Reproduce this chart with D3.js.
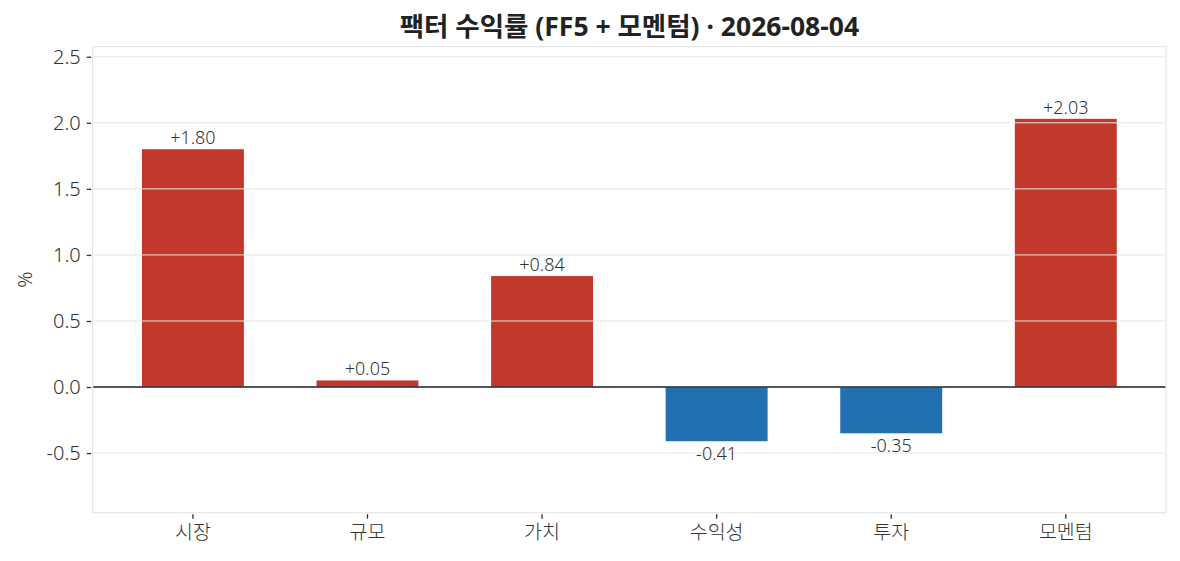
<!DOCTYPE html>
<html><head><meta charset="utf-8">
<script src="https://cdn.jsdelivr.net/npm/d3@7"></script>
<style>
html,body{margin:0;padding:0;background:#fff;}
text{font-family:"Noto Sans","Noto Sans CJK KR",sans-serif;}
</style></head>
<body><svg id="c" width="1180" height="561"></svg>
<script>
const categories = ["시장","규모","가치","수익성","투자","모멘텀"];
const values = [1.80, 0.05, 0.84, -0.41, -0.35, 2.03];
const yTicks = [-0.5, 0.0, 0.5, 1.0, 1.5, 2.0, 2.5];
const titleText = "팩터 수익률 (FF5 + 모멘텀) · 2026-08-04";
const yLabel = "%";

const W = 1180, H = 561;
const m = {left: 92.7, right: 1166, top: 46.7, bottom: 512.7};
const svg = d3.select("#c");

const x = d3.scaleBand().domain(categories).range([m.left, m.right])
  .paddingInner(0.416).paddingOuter(0.282);
const y = d3.scaleLinear().domain([-0.951, 2.576]).range([m.bottom, m.top]);

// bars
svg.append("g").selectAll("rect").data(values).join("rect")
  .attr("x", (d,i) => x(categories[i]))
  .attr("width", x.bandwidth())
  .attr("y", d => y(Math.max(0, d)))
  .attr("height", d => Math.abs(y(d) - y(0)))
  .attr("fill", d => d >= 0 ? "#c0392b" : "#2270b2");

// grid (drawn over bars)
svg.append("g").selectAll("line").data(yTicks).join("line")
  .attr("x1", m.left).attr("x2", m.right)
  .attr("y1", d => y(d)).attr("y2", d => y(d))
  .attr("stroke", "#e6e6e6").attr("stroke-width", 1);

// zero line
svg.append("line").attr("x1", m.left).attr("x2", m.right)
  .attr("y1", y(0)).attr("y2", y(0)).attr("stroke", "#222").attr("stroke-width", 1.4);

// spines
svg.append("rect").attr("x", m.left).attr("y", m.top)
  .attr("width", m.right - m.left).attr("height", m.bottom - m.top)
  .attr("fill", "none").attr("stroke", "#e6e6e6").attr("stroke-width", 1.2);

// axes
const fmt = d => d3.format(".1f")(d).replace("\u2212", "-");
const yAxis = d3.axisLeft(y).tickValues(yTicks).tickFormat(fmt).tickSize(4.5).tickPadding(6);
const gy = svg.append("g").attr("transform", `translate(${m.left - 1.5},0)`).call(yAxis);
gy.select(".domain").remove();
gy.selectAll("line").attr("stroke", "#333").attr("stroke-width", 1.3);
gy.selectAll("text").attr("fill", "#333").style("font-size", "20px").style("font-weight", 300);

const xAxis = d3.axisBottom(x).tickSize(4.5).tickPadding(6);
const gx = svg.append("g").attr("transform", `translate(0,${m.bottom + 1.5})`).call(xAxis);
gx.select(".domain").remove();
gx.selectAll("line").attr("stroke", "#333").attr("stroke-width", 1.3);
gx.selectAll("text").attr("fill", "#333").style("font-size", "19.5px").style("font-weight", 300);

// value labels
svg.append("g").selectAll("text").data(values).join("text")
  .attr("x", (d,i) => x(categories[i]) + x.bandwidth()/2)
  .attr("y", d => d >= 0 ? y(d) - 5 : y(d) + 18.5)
  .attr("text-anchor", "middle")
  .attr("fill", "#333").style("font-size", "18px").style("font-weight", 300)
  .text(d => (d >= 0 ? "+" : "") + d.toFixed(2));

// title
svg.append("text").attr("x", (m.left + m.right)/2).attr("y", 35.5)
  .attr("text-anchor", "middle").attr("fill", "#222")
  .style("font-size", "26.5px").style("font-weight", "bold").text(titleText);

// y label
svg.append("text").attr("transform", `translate(32,${(m.top + m.bottom)/2}) rotate(-90)`)
  .attr("text-anchor", "middle").attr("fill", "#333").style("font-size", "20px").style("font-weight", 300).text(yLabel);
</script></body></html>
